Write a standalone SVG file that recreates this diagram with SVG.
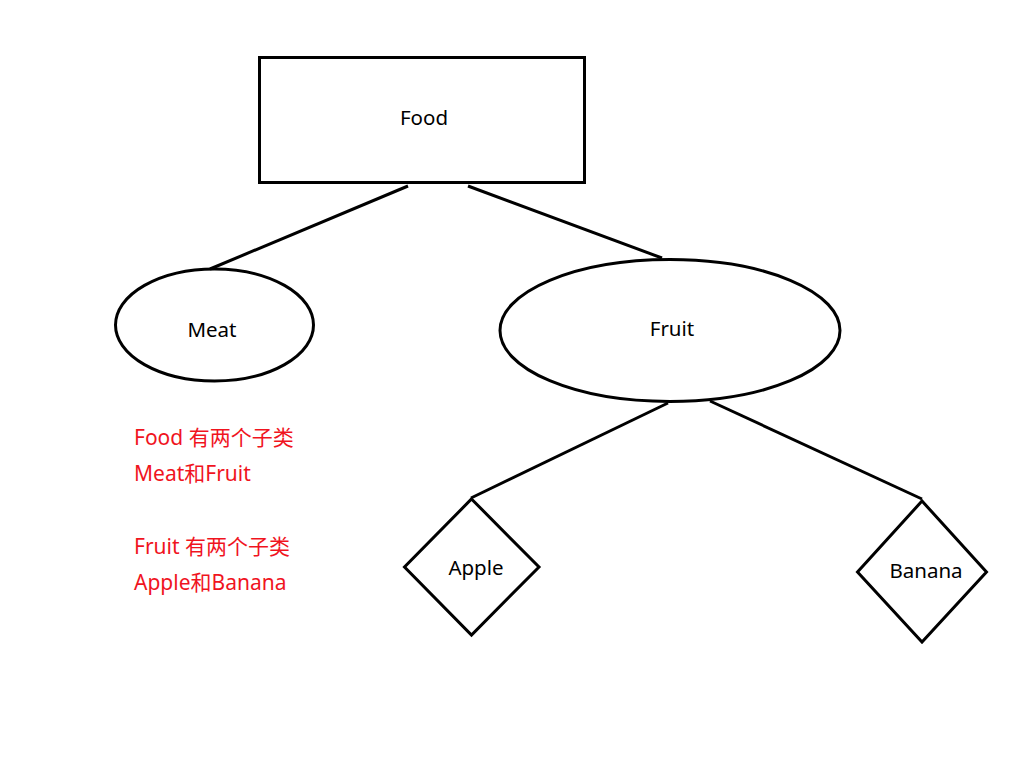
<svg xmlns="http://www.w3.org/2000/svg" width="1017" height="758" viewBox="0 0 1017 758">
<style>
.shape{fill:none;stroke:#000;stroke-width:3}
.conn line{stroke:#000;stroke-width:3}
.lbl{font-family:"Noto Sans","Noto Sans CJK SC",sans-serif;font-size:20.5px;fill:#000;text-anchor:middle;dominant-baseline:central}
.note{font-family:"Noto Sans","Noto Sans CJK SC",sans-serif;font-size:21px;fill:#f0141e}
</style>
<rect width="1017" height="758" fill="#fff"/>
<g id="connectors" class="conn">
<line x1="408" y1="186" x2="210" y2="269"/>
<line x1="468" y1="186" x2="662" y2="258"/>
<line x1="668" y1="403" x2="471" y2="498"/>
<line x1="710" y1="401" x2="922" y2="499"/>
</g>
<g id="food">
<rect class="shape" x="259.5" y="57.5" width="325" height="125"/>
<text class="lbl" x="424" y="117">Food</text>
</g>
<g id="meat">
<ellipse class="shape" cx="214.5" cy="325" rx="99" ry="56"/>
<text class="lbl" x="212" y="329">Meat</text>
</g>
<g id="fruit">
<ellipse class="shape" cx="670" cy="330.5" rx="170" ry="71"/>
<text class="lbl" x="672" y="328">Fruit</text>
</g>
<g id="apple">
<polygon class="shape" points="471.5,499 539,567 471.5,635 404.5,567"/>
<text class="lbl" x="476" y="567">Apple</text>
</g>
<g id="banana">
<polygon class="shape" points="922,501 986.5,572 922,642 857.5,572"/>
<text class="lbl" x="926" y="570">Banana</text>
</g>
<g id="notes">
<text class="note" x="134" y="445">Food 有两个子类</text>
<text class="note" x="134" y="481">Meat和Fruit</text>
<text class="note" x="134" y="554">Fruit 有两个子类</text>
<text class="note" x="134" y="590">Apple和Banana</text>
</g>
</svg>
